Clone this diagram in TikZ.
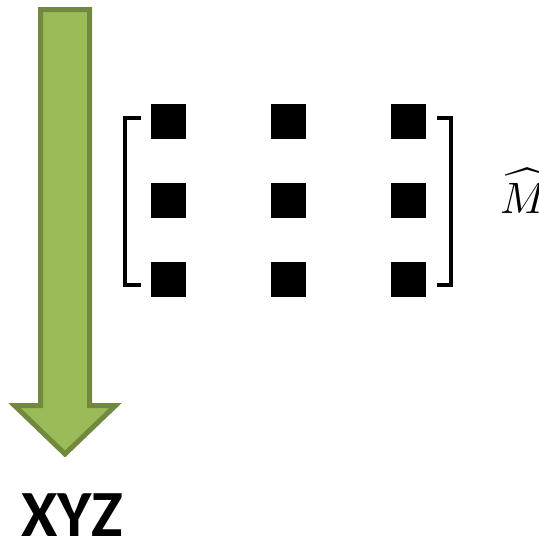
\documentclass[tikz,border=0pt]{standalone}
\usepackage{fontspec}
\usepackage{graphicx}
\newfontfamily\carlito{Carlito}
\begin{document}
\begin{tikzpicture}[x=1pt,y=-1pt,
  sq/.style={fill=black,draw=none,minimum size=35pt,inner sep=0pt,outer sep=0pt},
  brk/.style={line width=4pt,draw=black},
  bigarrow/.style={fill=arrowfill,draw=arrowline,line width=5pt,line join=miter}]
\definecolor{arrowfill}{HTML}{9BBB59}
\definecolor{arrowline}{HTML}{71893F}
\useasboundingbox (0,0) rectangle (539,539);
% arrow
\draw[bigarrow] (40.5,9.5) -- (89.5,9.5) -- (89.5,405.5) -- (115.5,405.5) -- (65,454) -- (14.5,405.5) -- (40.5,405.5) -- cycle;
\node[font=\carlito\bfseries\fontsize{66}{66}\selectfont,anchor=base,inner sep=0pt] (xyz) at (72,536) {XYZ};
% matrix squares
\foreach \r/\y in {1/121.5,2/200.5,3/279.5}{
  \foreach \c/\x in {1/168.5,2/288.5,3/408.5}{
    \node[sq] (m\r\c) at (\x,\y) {};
  }
}
% brackets
\draw[brk] (141,117.5) -- (125,117.5) -- (125,284.5) -- (141,284.5);
\draw[brk] (437,117.5) -- (451,117.5) -- (451,284.5) -- (437,284.5);
\node[anchor=base west,inner sep=0pt] (mhat) at (500,213) {\scalebox{4.4}{$\widehat{M}$}};
\end{tikzpicture}
\end{document}
